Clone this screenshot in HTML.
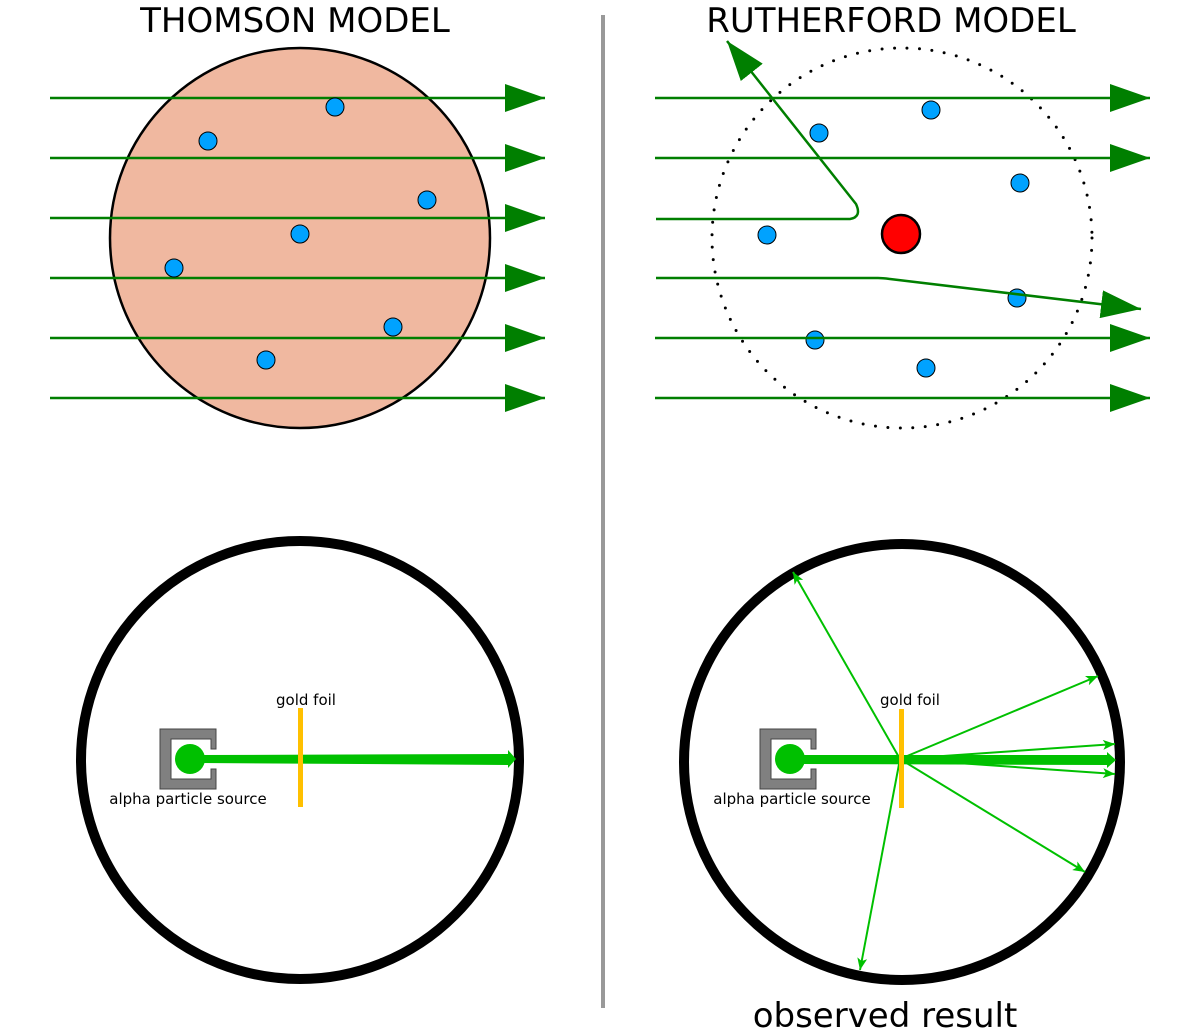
<!DOCTYPE html>
<html><head><meta charset="utf-8"><style>body{margin:0;background:#fff}svg{display:block}</style></head><body>
<svg width="1196" height="1033" viewBox="0 0 1196 1033" xmlns="http://www.w3.org/2000/svg" font-family="'DejaVu Sans','Liberation Sans',sans-serif">
<defs>
<marker id="big" markerWidth="40" markerHeight="28" refX="40" refY="14" orient="auto" markerUnits="userSpaceOnUse"><path d="M0,0 L40,14 L0,28 Z" fill="#007f00"/></marker>
<marker id="sm" markerWidth="12" markerHeight="10" refX="12" refY="5" orient="auto" markerUnits="userSpaceOnUse"><path d="M0,0 L12,5 L0,10 L3,5 Z" fill="#00c000"/></marker>
</defs>
<text x="295" y="32" font-size="34" text-anchor="middle">THOMSON MODEL</text>
<text x="891" y="32" font-size="34" text-anchor="middle">RUTHERFORD MODEL</text>
<line x1="603" y1="15" x2="603" y2="1008" stroke="#999" stroke-width="4"/>
<!-- Thomson -->
<circle cx="300" cy="238" r="190" fill="#f0b8a0" stroke="#000" stroke-width="2.5"/>
<g stroke="#007f00" stroke-width="2.5" fill="none">
<line x1="50" y1="98" x2="545" y2="98" marker-end="url(#big)"/>
<line x1="50" y1="158" x2="545" y2="158" marker-end="url(#big)"/>
<line x1="50" y1="218" x2="545" y2="218" marker-end="url(#big)"/>
<line x1="50" y1="278" x2="545" y2="278" marker-end="url(#big)"/>
<line x1="50" y1="338" x2="545" y2="338" marker-end="url(#big)"/>
<line x1="50" y1="398" x2="545" y2="398" marker-end="url(#big)"/>
</g>
<g fill="#00a2ff" stroke="#000" stroke-width="1">
<circle cx="335" cy="107" r="9"/><circle cx="208" cy="141" r="9"/><circle cx="427" cy="200" r="9"/>
<circle cx="300" cy="234" r="9"/><circle cx="174" cy="268" r="9"/><circle cx="393" cy="327" r="9"/><circle cx="266" cy="360" r="9"/>
</g>
<!-- Rutherford -->
<circle cx="902" cy="238" r="190" fill="none" stroke="#000" stroke-width="3" stroke-dasharray="0 12.5" stroke-linecap="round"/>
<g fill="#00a2ff" stroke="#000" stroke-width="1">
<circle cx="931" cy="110" r="9"/><circle cx="819" cy="133" r="9"/><circle cx="1020" cy="183" r="9"/>
<circle cx="767" cy="235" r="9"/><circle cx="1017" cy="298" r="9"/><circle cx="815" cy="340" r="9"/><circle cx="926" cy="368" r="9"/>
</g>
<circle cx="901" cy="234" r="19" fill="#ff0000" stroke="#000" stroke-width="2.5"/>
<g stroke="#007f00" stroke-width="2.5" fill="none">
<line x1="655" y1="98" x2="1150" y2="98" marker-end="url(#big)"/>
<line x1="655" y1="158" x2="1150" y2="158" marker-end="url(#big)"/>
<path d="M656,219 L850,219 Q862,217 856,204 L727,41" marker-end="url(#big)"/>
<path d="M656,278 L878,278 Q882,278 890,279 L1141,309" marker-end="url(#big)"/>
<line x1="655" y1="338" x2="1150" y2="338" marker-end="url(#big)"/>
<line x1="655" y1="398" x2="1150" y2="398" marker-end="url(#big)"/>
</g>
<!-- bottom thomson -->
<circle cx="300" cy="760" r="219" fill="none" stroke="#000" stroke-width="10"/>
<path d="M160,729 H216 V749 H211 V739 H171 V779 H211 V769 H216 V789 H160 Z" fill="#808080" stroke="#444" stroke-width="1"/>
<circle cx="190" cy="759" r="15" fill="#00c000"/>
<path d="M200,755 L508,754 L508,750 L516,759 L508,768 L508,765 L200,763 Z" fill="#00c000"/>
<rect x="298" y="708" width="5" height="99" fill="#ffc000"/>
<text x="306" y="705" font-size="15" text-anchor="middle">gold foil</text>
<text x="188" y="804" font-size="15" text-anchor="middle">alpha particle source</text>
<!-- bottom rutherford -->
<circle cx="902" cy="762" r="218" fill="none" stroke="#000" stroke-width="10"/>
<path d="M760,729 H816 V749 H811 V739 H771 V779 H811 V769 H816 V789 H760 Z" fill="#808080" stroke="#444" stroke-width="1"/>
<circle cx="790" cy="759" r="15" fill="#00c000"/>
<path d="M800,755 L1107,755 L1107,752 L1116,760 L1107,768 L1107,765 L800,764 Z" fill="#00c000"/>
<g stroke="#00c000" stroke-width="2" fill="none">
<line x1="900" y1="759" x2="793" y2="572" marker-end="url(#sm)"/>
<line x1="900" y1="759" x2="1098" y2="676" marker-end="url(#sm)"/>
<line x1="900" y1="759" x2="1115" y2="744" marker-end="url(#sm)"/>
<line x1="900" y1="759" x2="1115" y2="774" marker-end="url(#sm)"/>
<line x1="900" y1="759" x2="1085" y2="872" marker-end="url(#sm)"/>
<line x1="900" y1="759" x2="860" y2="970" marker-end="url(#sm)"/>
</g>
<rect x="899" y="709" width="5" height="99" fill="#ffc000"/>
<text x="910" y="705" font-size="15" text-anchor="middle">gold foil</text>
<text x="792" y="804" font-size="15" text-anchor="middle">alpha particle source</text>
<text x="885" y="1027" font-size="34" text-anchor="middle">observed result</text>
</svg>
</body></html>
